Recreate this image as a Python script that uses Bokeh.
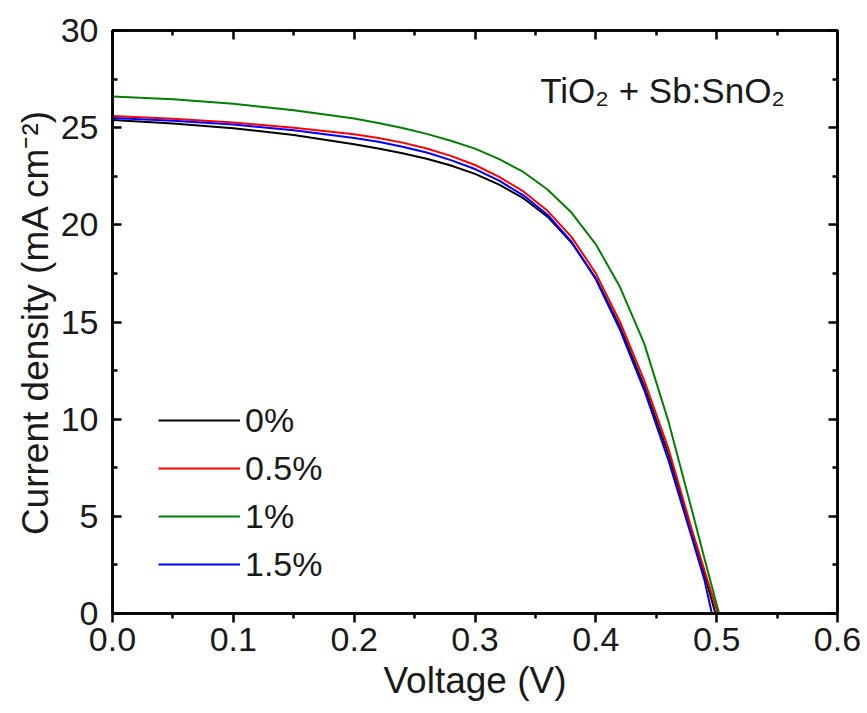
from bokeh.plotting import figure
from bokeh.models import (Range1d, LinearAxis, FixedTicker, PrintfTickFormatter,
                          CustomJSTickFormatter, Legend, LegendItem, Label)
from bokeh.embed import file_html
from bokeh.resources import INLINE

# ---- data ----
voltage_0 = [0.0, 0.05, 0.1, 0.15, 0.2, 0.22, 0.24, 0.26, 0.28, 0.30, 0.32, 0.34, 0.36, 0.38, 0.40, 0.42, 0.44, 0.46, 0.48, 0.49, 0.499]
current_0 = [25.4, 25.22, 24.97, 24.62, 24.15, 23.93, 23.68, 23.4, 23.05, 22.62, 22.07, 21.37, 20.42, 19.08, 17.25, 14.75, 11.7, 8.2, 4.1, 2.0, 0.0]

voltage_05 = [0.0, 0.05, 0.1, 0.15, 0.2, 0.22, 0.24, 0.26, 0.28, 0.30, 0.32, 0.34, 0.36, 0.38, 0.40, 0.42, 0.44, 0.46, 0.48, 0.49, 0.501]
current_05 = [25.6, 25.46, 25.26, 25.0, 24.66, 24.47, 24.23, 23.93, 23.55, 23.08, 22.47, 21.72, 20.72, 19.37, 17.5, 15.0, 12.0, 8.5, 4.2, 2.2, 0.0]

voltage_1 = [0.0, 0.05, 0.1, 0.15, 0.2, 0.22, 0.24, 0.26, 0.28, 0.30, 0.32, 0.34, 0.36, 0.38, 0.40, 0.42, 0.44, 0.46, 0.48, 0.49, 0.502]
current_1 = [26.6, 26.46, 26.23, 25.9, 25.47, 25.24, 24.98, 24.68, 24.33, 23.92, 23.38, 22.72, 21.82, 20.62, 19.0, 16.8, 13.9, 9.9, 5.2, 2.8, 0.0]

voltage_15 = [0.0, 0.05, 0.1, 0.15, 0.2, 0.22, 0.24, 0.26, 0.28, 0.30, 0.32, 0.34, 0.36, 0.38, 0.40, 0.42, 0.44, 0.46, 0.48, 0.49, 0.496]
current_15 = [25.5, 25.36, 25.16, 24.87, 24.47, 24.27, 24.02, 23.72, 23.33, 22.87, 22.27, 21.52, 20.52, 19.12, 17.2, 14.6, 11.5, 7.9, 3.8, 1.7, 0.0]

series_labels = ["0%", "0.5%", "1%", "1.5%"]
series_colors = ["#000000", "#ff0000", "#008000", "#0000ff"]

x_ticks = [0.0, 0.1, 0.2, 0.3, 0.4, 0.5, 0.6]
x_minor = [0.05, 0.15, 0.25, 0.35, 0.45, 0.55]
y_ticks = [0, 5, 10, 15, 20, 25, 30]
y_minor = [2.5, 7.5, 12.5, 17.5, 22.5, 27.5]

annotation = "TiO₂ + Sb:SnO₂"
x_title = "Voltage (V)"
y_title = "Current density (mA cm⁻²)"

FONT = "Liberation Sans"
TICK_SIZE = "34px"
TITLE_SIZE = "37px"
TEXT_COLOR = "#1a1a1a"

p = figure(width=867, height=713, output_backend="svg", toolbar_location=None,
           x_range=Range1d(0, 0.6), y_range=Range1d(0, 30),
           min_border_left=112, min_border_right=30, min_border_top=30,
           min_border_bottom=100, x_axis_location=None, y_axis_location=None)
p.grid.visible = False
p.outline_line_color = "black"
p.outline_line_width = 2.5
p.background_fill_color = "white"
p.border_fill_color = "white"

def style_axis(ax, ticks, minor, fmt, labels=True, tick_in=True):
    ax.ticker = FixedTicker(ticks=ticks, minor_ticks=minor)
    ax.axis_line_width = 2.5
    ax.axis_line_color = "black"
    ax.major_tick_line_width = 2.5
    ax.minor_tick_line_width = 2.5
    ax.major_tick_line_color = "black"
    ax.minor_tick_line_color = "black"
    if tick_in:
        ax.major_tick_in = 9
        ax.major_tick_out = 0
        ax.minor_tick_in = 5
        ax.minor_tick_out = 0
    else:
        ax.major_tick_in = 0
        ax.major_tick_out = 9
        ax.minor_tick_in = 0
        ax.minor_tick_out = 5
    if labels:
        ax.formatter = PrintfTickFormatter(format=fmt)
        ax.major_label_text_font = FONT
        ax.major_label_text_font_size = TICK_SIZE
        ax.major_label_text_color = TEXT_COLOR
        ax.axis_label_text_font = FONT
        ax.axis_label_text_font_size = TITLE_SIZE
        ax.axis_label_text_font_style = "normal"
        ax.axis_label_text_color = TEXT_COLOR
    else:
        ax.formatter = CustomJSTickFormatter(code="return ''")
        ax.major_label_text_font_size = "1px"
        ax.major_label_standoff = 0

xb = LinearAxis(axis_label=x_title)
style_axis(xb, x_ticks, x_minor, "%.1f", labels=True, tick_in=False)
xb.major_label_standoff = 5
xb.axis_label_standoff = 6
p.add_layout(xb, "below")

yl = LinearAxis(axis_label=y_title)
style_axis(yl, y_ticks, y_minor, "%d", labels=True, tick_in=True)
yl.major_label_standoff = 14
yl.axis_label_standoff = 2
p.add_layout(yl, "left")

xt = LinearAxis()
style_axis(xt, x_ticks, x_minor, "%.1f", labels=False, tick_in=True)
p.add_layout(xt, "above")

yr = LinearAxis()
style_axis(yr, y_ticks, y_minor, "%d", labels=False, tick_in=True)
p.add_layout(yr, "right")

volts = [voltage_0, voltage_05, voltage_1, voltage_15]
currs = [current_0, current_05, current_1, current_15]
items = []
for v, c, lab, col in zip(volts, currs, series_labels, series_colors):
    r = p.line(v, c, line_color=col, line_width=2)
    items.append(LegendItem(label=lab, renderers=[r]))

legend = Legend(items=items, location=(46, 29), glyph_width=82, glyph_height=40,
                label_height=40, spacing=8, padding=0, margin=0, label_standoff=5,
                label_text_font=FONT, label_text_font_size=TICK_SIZE,
                label_text_color=TEXT_COLOR, background_fill_alpha=0,
                border_line_color=None)
p.add_layout(legend, "center")

p.add_layout(Label(x=0.354, y=26.9, text=annotation, text_font=FONT,
                   text_font_size="35px", text_color=TEXT_COLOR,
                   text_baseline="alphabetic"))

open("out.html", "w").write(file_html(p, INLINE))
